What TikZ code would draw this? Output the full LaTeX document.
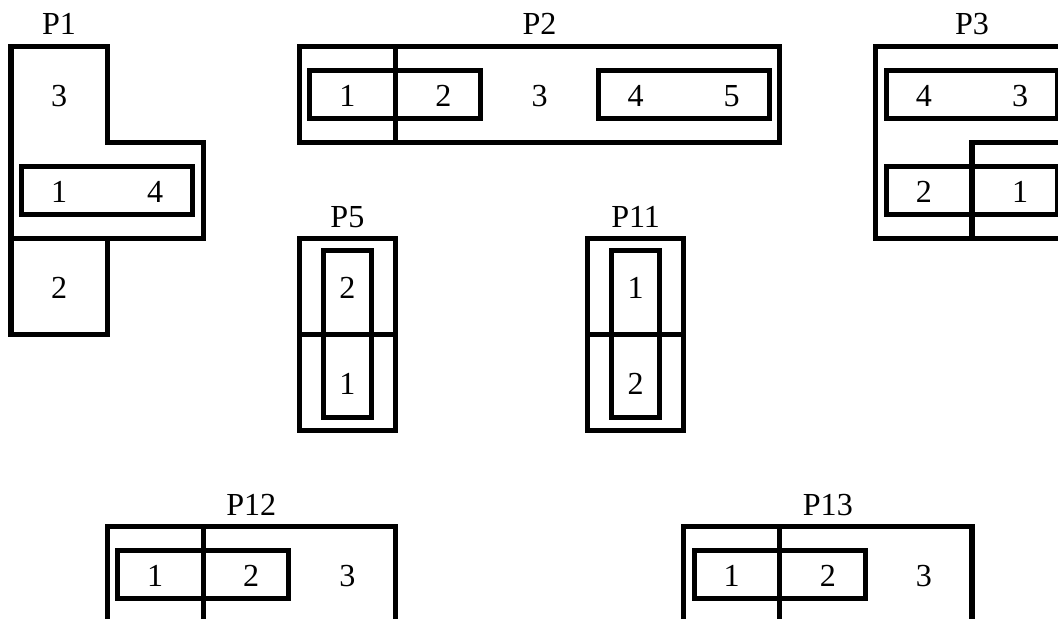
\documentclass[tikz,border=0pt]{standalone}
\usepackage{fontspec}
\setmainfont{Liberation Serif}
\usepackage{tikz}
\tikzstyle{board} = [x = 1cm, y = -1cm]
\tikzstyle{pieceLine} = [color=black, line width=1.5pt]
\tikzstyle{dominoStyle} = [color=black, line width=1.5pt]
\tikzstyle{cellText} = [font=\fontsize{9.5}{11}\selectfont, anchor=base, inner sep=0pt]
\tikzstyle{pieceTitle} = [cellText]
\newcommand{\lEps}{.11}
\newcommand{\vEps}{.13}
\newcommand{\sEps}{.25}
\newcommand{\baseShift}{.625}
% row, column, left text, right text, name
\newcommand{\horizontalDomino}[5]{
  \draw [dominoStyle] (#2 + \lEps, #1 + \sEps) rectangle + (2 - 2 * \lEps, .5);
  \node [cellText] (#5a) at (#2 + .5, #1 + \baseShift) {#3};
  \node [cellText] (#5b) at (#2 + 1.5, #1 + \baseShift) {#4};
}
% row, column, top text, bottom text, name
\newcommand{\verticalDomino}[5]{
  \draw [dominoStyle] (#2 + \sEps, #1 + \vEps) rectangle + (.5, 2 - 2 * \vEps);
  \node [cellText] (#5a) at (#2 + .5, #1 + \baseShift) {#3};
  \node [cellText] (#5b) at (#2 + .5, #1 + 1 + \baseShift) {#4};
}
\newcommand{\cellNumber}[4]{\node [cellText] (#4) at (#2 + .5, #1 + \baseShift) {#3};}
\newcommand{\pieceName}[3]{\node [pieceTitle] (#3) at (#2, #1 - .115) {#3};}
\begin{document}
\begin{tikzpicture}[board]
  \clip (-.1145, -.479) rectangle (10.895, 5.952);
  % P1
  \draw [pieceLine] (0,0) -- (1,0) -- (1,1) -- (2,1) -- (2,2) -- (1,2) -- (1,3) -- (0,3) -- cycle;
  \draw [pieceLine] (0,2) -- (1,2);
  \pieceName{0}{.5}{P1}
  \cellNumber{0}{0}{3}{p1c}
  \horizontalDomino{1}{0}{1}{4}{p1d}
  \cellNumber{2}{0}{2}{p1e}
  % P2
  \draw [pieceLine] (3,0) rectangle (8,1);
  \draw [pieceLine] (4,0) -- (4,1);
  \pieceName{0}{5.5}{P2}
  \horizontalDomino{0}{3}{1}{2}{p2d}
  \cellNumber{0}{5}{3}{p2c}
  \horizontalDomino{0}{6}{4}{5}{p2e}
  % P3
  \draw [pieceLine] (9,0) rectangle (11,2);
  \draw [pieceLine] (10,2) -- (10,1) -- (11,1);
  \pieceName{0}{10}{P3}
  \horizontalDomino{0}{9}{4}{3}{p3d}
  \horizontalDomino{1}{9}{2}{1}{p3e}
  % P5
  \draw [pieceLine] (3,2) rectangle (4,4);
  \draw [pieceLine] (3,3) -- (4,3);
  \pieceName{2}{3.5}{P5}
  \verticalDomino{2}{3}{2}{1}{p5d}
  % P11
  \draw [pieceLine] (6,2) rectangle (7,4);
  \draw [pieceLine] (6,3) -- (7,3);
  \pieceName{2}{6.5}{P11}
  \verticalDomino{2}{6}{1}{2}{p11d}
  % P12
  \draw [pieceLine] (1,5) rectangle (4,7);
  \draw [pieceLine] (2,5) -- (2,7);
  \pieceName{5}{2.5}{P12}
  \horizontalDomino{5}{1}{1}{2}{p12d}
  \cellNumber{5}{3}{3}{p12c}
  % P13
  \draw [pieceLine] (7,5) rectangle (10,7);
  \draw [pieceLine] (8,5) -- (8,7);
  \pieceName{5}{8.5}{P13}
  \horizontalDomino{5}{7}{1}{2}{p13d}
  \cellNumber{5}{9}{3}{p13c}
\end{tikzpicture}
\end{document}
